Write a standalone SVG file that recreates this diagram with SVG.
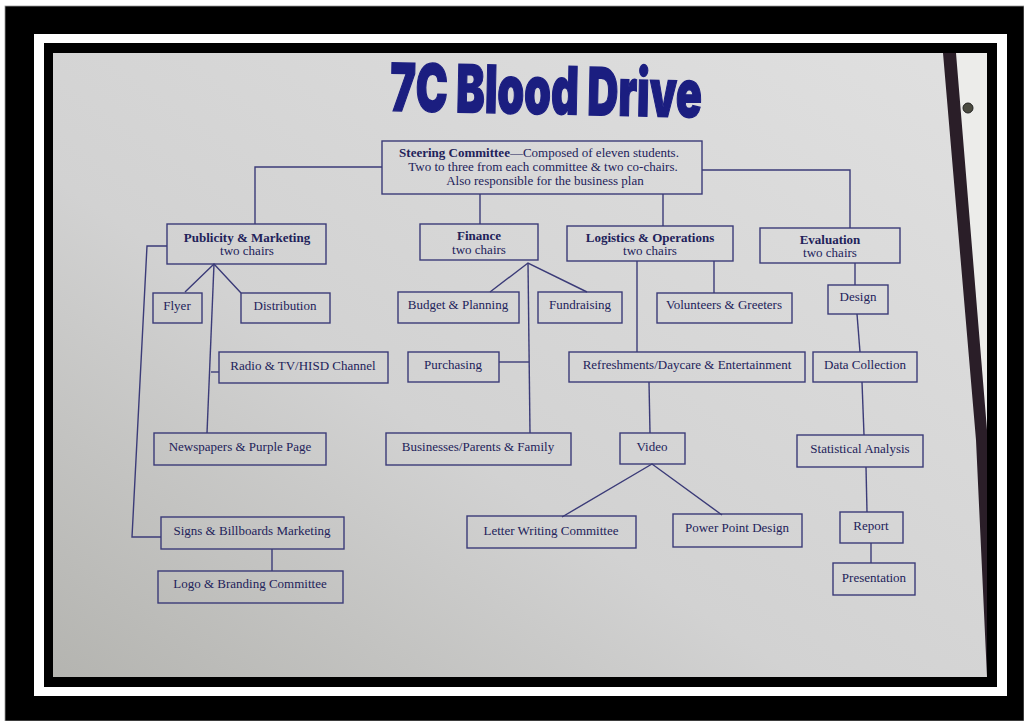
<svg xmlns="http://www.w3.org/2000/svg" width="1024" height="721" viewBox="0 0 1024 721">
<defs>
<linearGradient id="paper" x1="1" y1="0" x2="0" y2="1">
<stop offset="0" stop-color="#e0e0e0"/>
<stop offset="0.6" stop-color="#d2d2d2"/>
<stop offset="1" stop-color="#b4b4b0"/>
</linearGradient>
<style>
.box{fill:none;stroke:#3b3b78;stroke-width:1.4}
.ln{fill:none;stroke:#3b3b78;stroke-width:1.4}
text{font-family:"Liberation Serif","Times New Roman",serif;font-size:13px;fill:#22225a;text-anchor:middle}
.b{font-weight:bold}
.title{font-family:Inter,"DejaVu Sans","Liberation Sans",sans-serif;font-weight:900;font-size:66px;fill:#1b1e80;stroke:#1b1e80;stroke-width:1.5;text-anchor:start}
</style>
</defs>
<rect x="0" y="0" width="1024" height="721" fill="#ffffff"/>
<rect x="5" y="6" width="1019" height="715" fill="#000000" stroke="#9a9a9a" stroke-width="0.8"/>
<rect x="34" y="34" width="973" height="662" fill="#ffffff"/>
<rect x="44" y="43" width="953" height="644" fill="#000000"/>
<rect x="53" y="53" width="934" height="624" fill="url(#paper)"/>
<polygon points="955,53 987,53 987,430" fill="#ececea"/>
<polygon points="943,53 956,53 987,430 987,677 976,440" fill="#2a1e28"/>
<circle cx="968" cy="108" r="5" fill="#4a4a40" stroke="#222" stroke-width="1"/>

<text class="title" x="390" y="114" textLength="312" lengthAdjust="spacingAndGlyphs" transform="rotate(1.2 545 95)">7C Blood Drive</text>

<g id="connectors">
<path class="ln" d="M382,167 H255 V224"/>
<path class="ln" d="M702,170 H850 V228"/>
<path class="ln" d="M480,194 V224"/>
<path class="ln" d="M663,194 V226"/>
<path class="ln" d="M185,292 L214,264 L241,293"/>
<path class="ln" d="M214,264 L207,433"/>
<path class="ln" d="M211,372 H219"/>
<path class="ln" d="M167,246 H147 L132,537 H161"/>
<path class="ln" d="M272,549 V571"/>
<path class="ln" d="M490,292 L528,263 L587,292"/>
<path class="ln" d="M528,263 L530,433"/>
<path class="ln" d="M499,362 H529"/>
<path class="ln" d="M637,261 V352"/>
<path class="ln" d="M714,261 V293"/>
<path class="ln" d="M649,382 L650,433"/>
<path class="ln" d="M562,517 L652,464 L722,515"/>
<path class="ln" d="M855,263 V285"/>
<path class="ln" d="M857,314 L860,352"/>
<path class="ln" d="M862,382 L864,435"/>
<path class="ln" d="M866,467 L867,512"/>
<path class="ln" d="M871,543 V563"/>
</g>

<g id="steering">
<rect class="box" x="382" y="141" width="320" height="53"/>
<text x="539" y="157" font-size="12.5"><tspan class="b">Steering Committee</tspan>—Composed of eleven students.</text>
<text x="543" y="171" font-size="12.5">Two to three from each committee &amp; two co-chairs.</text>
<text x="545" y="185" font-size="12.5">Also responsible for the business plan</text>
</g>
<g id="publicity">
<rect class="box" x="167" y="224" width="159" height="40"/>
<text class="b" x="247" y="242" font-size="12.5">Publicity &amp; Marketing</text>
<text x="247" y="255">two chairs</text>
</g>
<g id="finance">
<rect class="box" x="420" y="224" width="118" height="36"/>
<text class="b" x="479" y="240" font-size="12.5">Finance</text>
<text x="479" y="254">two chairs</text>
</g>
<g id="logistics">
<rect class="box" x="567" y="226" width="166" height="35"/>
<text class="b" x="650" y="242" font-size="12.5">Logistics &amp; Operations</text>
<text x="650" y="255">two chairs</text>
</g>
<g id="evaluation">
<rect class="box" x="760" y="228" width="140" height="35"/>
<text class="b" x="830" y="244" font-size="12.5">Evaluation</text>
<text x="830" y="257">two chairs</text>
</g>
<g id="flyer">
<rect class="box" x="153" y="293" width="49" height="30"/>
<text x="177" y="310">Flyer</text>
</g>
<g id="distribution">
<rect class="box" x="241" y="293" width="89" height="30"/>
<text x="285" y="310">Distribution</text>
</g>
<g id="radio">
<rect class="box" x="219" y="352" width="169" height="31"/>
<text x="303" y="370">Radio &amp; TV/HISD Channel</text>
</g>
<g id="newspapers">
<rect class="box" x="154" y="433" width="172" height="32"/>
<text x="240" y="451">Newspapers &amp; Purple Page</text>
</g>
<g id="signs">
<rect class="box" x="161" y="517" width="183" height="32"/>
<text x="252" y="535">Signs &amp; Billboards Marketing</text>
</g>
<g id="logo">
<rect class="box" x="158" y="571" width="185" height="32"/>
<text x="250" y="588">Logo &amp; Branding Committee</text>
</g>
<g id="budget">
<rect class="box" x="398" y="292" width="121" height="31"/>
<text x="458" y="309">Budget &amp; Planning</text>
</g>
<g id="fundraising">
<rect class="box" x="538" y="292" width="84" height="31"/>
<text x="580" y="309">Fundraising</text>
</g>
<g id="purchasing">
<rect class="box" x="408" y="352" width="91" height="30"/>
<text x="453" y="369">Purchasing</text>
</g>
<g id="businesses">
<rect class="box" x="386" y="433" width="185" height="32"/>
<text x="478" y="451">Businesses/Parents &amp; Family</text>
</g>
<g id="volunteers">
<rect class="box" x="657" y="293" width="135" height="30"/>
<text x="724" y="309">Volunteers &amp; Greeters</text>
</g>
<g id="refreshments">
<rect class="box" x="569" y="352" width="236" height="30"/>
<text x="687" y="369">Refreshments/Daycare &amp; Entertainment</text>
</g>
<g id="video">
<rect class="box" x="620" y="433" width="65" height="31"/>
<text x="652" y="451">Video</text>
</g>
<g id="letter">
<rect class="box" x="467" y="516" width="169" height="32"/>
<text x="551" y="535">Letter Writing Committee</text>
</g>
<g id="powerpoint">
<rect class="box" x="673" y="514" width="129" height="33"/>
<text x="737" y="532">Power Point Design</text>
</g>
<g id="design">
<rect class="box" x="828" y="285" width="60" height="29"/>
<text x="858" y="301">Design</text>
</g>
<g id="datacollection">
<rect class="box" x="813" y="352" width="104" height="30"/>
<text x="865" y="369">Data Collection</text>
</g>
<g id="statistical">
<rect class="box" x="797" y="435" width="126" height="32"/>
<text x="860" y="453">Statistical Analysis</text>
</g>
<g id="report">
<rect class="box" x="840" y="512" width="63" height="31"/>
<text x="871" y="530">Report</text>
</g>
<g id="presentation">
<rect class="box" x="833" y="563" width="82" height="32"/>
<text x="874" y="582">Presentation</text>
</g>
</svg>
